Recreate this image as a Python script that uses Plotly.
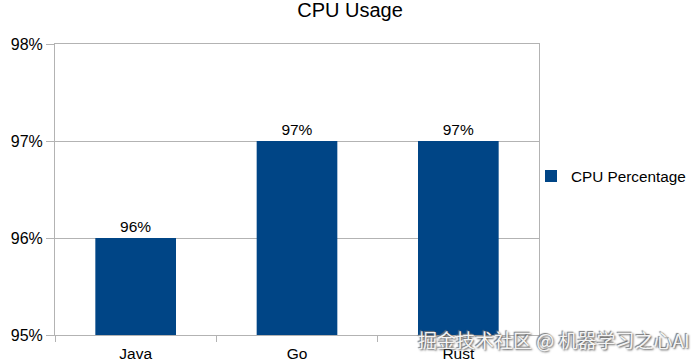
import plotly.graph_objects as go

categories = ["Java", "Go", "Rust"]
cpu_values = [96, 97, 97]
value_labels = ["96%", "97%", "97%"]
series_name = "CPU Percentage"
title_text = "CPU Usage"
watermark = "掘金技术社区 @ 机器学习之心AI"

font_family = "Liberation Sans, Arial, sans-serif"
bar_color = "#004586"
grid_color = "#b3b3b3"

fig = go.Figure()
fig.add_trace(go.Bar(
    x=categories, y=cpu_values, name=series_name,
    marker=dict(color=bar_color, line=dict(width=0)),
    width=0.5,
    text=value_labels, textposition="outside",
    textfont=dict(size=15.5, color="#000000", family=font_family),
    cliponaxis=False,
    showlegend=True,
))

fig.update_layout(
    width=700, height=364,
    margin=dict(l=55, r=161, t=44, b=29, autoexpand=False),
    paper_bgcolor="white", plot_bgcolor="white",
    font=dict(family=font_family, color="#000000"),
    title=dict(text=title_text, x=(350 - 55) / 484, xref="paper", xanchor="center",
               y=0.972, yanchor="middle",
               font=dict(size=20, family=font_family, color="#000000")),
    legend=dict(x=(531 - 55) / 484, xanchor="left", y=0.546, yanchor="middle",
                font=dict(size=15.3, family=font_family),
                bgcolor="rgba(0,0,0,0)", itemwidth=30),
)
fig.update_xaxes(
    type="category", tickson="boundaries", ticks="outside", ticklen=6,
    tickcolor=grid_color, showline=True, linecolor=grid_color, mirror=True,
    showgrid=False, tickfont=dict(size=15.5, family=font_family),
    ticklabelstandoff=4, automargin=False,
)
fig.update_yaxes(
    range=[95, 98], dtick=1, ticksuffix="%", ticks="outside", ticklen=8,
    tickcolor=grid_color, showgrid=True, gridcolor=grid_color,
    showline=True, linecolor=grid_color, mirror=True, zeroline=False,
    tickfont=dict(size=16, family=font_family), automargin=False,
)
fig.add_annotation(
    text=watermark, xref="paper", yref="paper", x=(554 - 55) / 484, y=-0.016,
    xanchor="center", yanchor="middle", showarrow=False,
    font=dict(size=19, color="#f4f4f4", family="Noto Sans CJK SC",
              shadow="1px 1px 2px #555, -1px -1px 1px #777"),
)

fig.write_html(
    "out.html",
    config={"displayModeBar": False},
    post_script="document.body.style.margin='0';document.body.style.padding='0';",
)
